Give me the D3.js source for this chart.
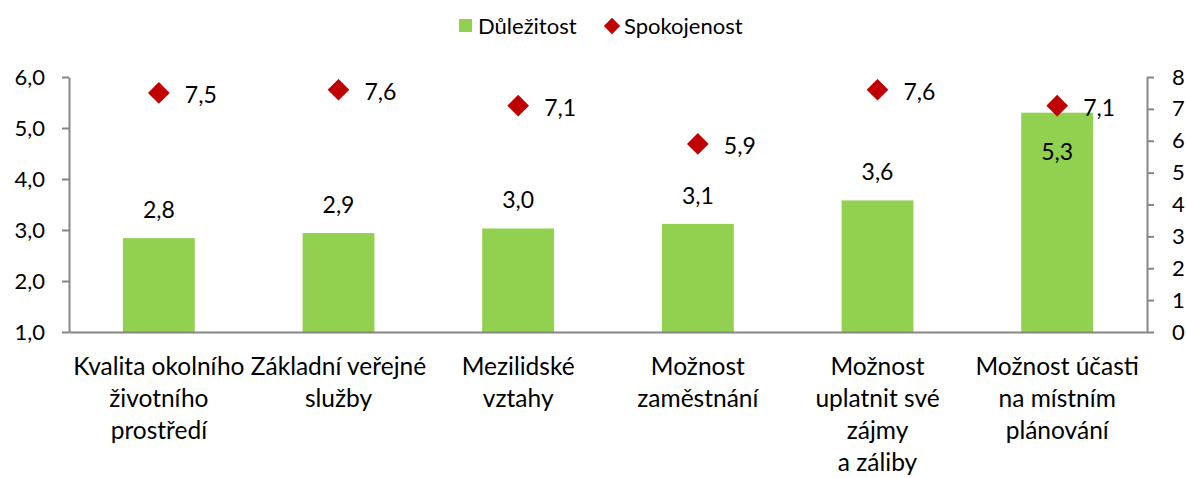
<!DOCTYPE html>
<html>
<head>
<meta charset="utf-8">
<script src="https://cdn.jsdelivr.net/npm/d3@7"></script>
<style>
  body { margin: 0; background: #fff; }
  text { font-family: Lato, "Open Sans", sans-serif; fill: #000; }
</style>
</head>
<body>
<div id="chart"></div>
<script>
// chart values
const categories = [
  'Kvalita okolního\nživotního\nprostředí',
  'Základní veřejné\nslužby',
  'Mezilidské\nvztahy',
  'Možnost\nzaměstnání',
  'Možnost\nuplatnit své\nzájmy\na záliby',
  'Možnost účasti\nna místním\nplánování'
];
const importance = [2.84, 2.94, 3.03, 3.12, 3.58, 5.3];   // Důležitost (left axis)
const satisfaction = [7.5, 7.6, 7.1, 5.9, 7.6, 7.1];       // Spokojenost (right axis)
const leftTicks = [1, 2, 3, 4, 5, 6];
const rightTicks = [0, 1, 2, 3, 4, 5, 6, 7, 8];
const seriesNames = ['Důležitost', 'Spokojenost'];

const width = 1186;
const height = 478;
const plot = { left: 69, right: 1147, top: 77, bottom: 332 };
const green = '#92D050';
const red = '#C00000';
const axisColor = '#868686';
const numSize = 23;

const fmt = v => d3.format('.1f')(v).replace('.', ',');

const svg = d3.select('#chart').append('svg')
  .attr('width', width)
  .attr('height', height);

const x = d3.scaleBand()
  .domain(categories)
  .range([plot.left, plot.right])
  .paddingInner(0.6)
  .paddingOuter(0.3);

const yLeft = d3.scaleLinear().domain([1, 6]).range([plot.bottom, plot.top]);
const yRight = d3.scaleLinear().domain([0, 8]).range([plot.bottom, plot.top]);

// bars
svg.append('g').selectAll('rect')
  .data(importance)
  .join('rect')
  .attr('x', (d, i) => x(categories[i]))
  .attr('width', x.bandwidth())
  .attr('y', d => yLeft(d))
  .attr('height', d => yLeft(1) - yLeft(d))
  .attr('fill', green);

// axes
const styleAxis = g => {
  g.select('.domain').attr('stroke', axisColor).attr('stroke-width', 2);
  g.selectAll('.tick line').attr('stroke', axisColor).attr('stroke-width', 2);
  g.selectAll('text').attr('font-size', 22).attr('fill', '#000')
    .attr('font-family', 'Lato, "Open Sans", sans-serif');
};

svg.append('g')
  .attr('transform', `translate(${plot.left},0)`)
  .call(d3.axisLeft(yLeft).tickValues(leftTicks).tickFormat(fmt).tickSize(7).tickSizeOuter(0).tickPadding(17))
  .call(styleAxis);

svg.append('g')
  .attr('transform', `translate(${plot.right},0)`)
  .call(d3.axisRight(yRight).tickValues(rightTicks).tickFormat(d3.format('d')).tickSize(7).tickSizeOuter(0).tickPadding(18))
  .call(styleAxis);

const xAxis = svg.append('g')
  .attr('transform', `translate(0,${plot.bottom})`)
  .call(d3.axisBottom(x).tickSize(0).tickSizeOuter(0).tickFormat(''))
  .call(styleAxis);

xAxis.selectAll('.tick text').remove();
xAxis.selectAll('.tick').append('text')
  .attr('text-anchor', 'middle')
  .attr('font-size', 24.5)
  .attr('fill', '#000')
  .attr('font-family', 'Lato, "Open Sans", sans-serif')
  .selectAll('tspan')
  .data(d => d.split('\n'))
  .join('tspan')
  .attr('x', 0)
  .attr('y', (d, i) => 43 + i * 32)
  .text(d => d);

// bar labels
svg.append('g').selectAll('text')
  .data(importance)
  .join('text')
  .attr('x', (d, i) => x(categories[i]) + x.bandwidth() / 2)
  .attr('y', (d, i) => i === importance.length - 1 ? yLeft(d) + 47 : yLeft(d) - 20)
  .attr('text-anchor', 'middle')
  .attr('font-size', numSize)
  .text(d => fmt(d));

// diamonds
const diamond = d3.symbol().type(d3.symbolDiamond2).size(300);
svg.append('g').selectAll('path')
  .data(satisfaction)
  .join('path')
  .attr('d', diamond)
  .attr('transform', (d, i) => `translate(${x(categories[i]) + x.bandwidth() / 2},${yRight(d)})`)
  .attr('fill', red);

svg.append('g').selectAll('text')
  .data(satisfaction)
  .join('text')
  .attr('x', (d, i) => x(categories[i]) + x.bandwidth() / 2 + 26)
  .attr('y', d => yRight(d) + 10)
  .attr('font-size', numSize)
  .text(d => fmt(d));

// legend
const legend = svg.append('g').attr('transform', 'translate(459,26)');
legend.append('rect')
  .attr('x', 0).attr('y', -7).attr('width', 13).attr('height', 13)
  .attr('fill', green);
legend.append('text')
  .attr('x', 19).attr('y', 8)
  .attr('font-size', 22)
  .text(seriesNames[0]);
legend.append('path')
  .attr('d', d3.symbol().type(d3.symbolDiamond2).size(170))
  .attr('transform', 'translate(153,0)')
  .attr('fill', red);
legend.append('text')
  .attr('x', 165).attr('y', 8)
  .attr('font-size', 22)
  .text(seriesNames[1]);
</script>
</body>
</html>
